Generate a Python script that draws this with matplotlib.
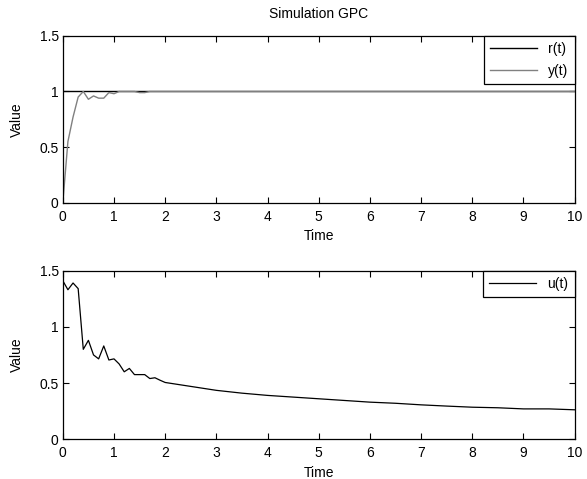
import matplotlib.pyplot as plt

plt.rcParams['font.family'] = ['Liberation Sans', 'DejaVu Sans']
plt.rcParams['font.size'] = 10

# step response
t_y = [0, 0.1, 0.2, 0.3, 0.4, 0.5, 0.6, 0.7, 0.8, 0.9, 1.0, 1.1, 1.2, 1.4,
       1.5, 1.6, 1.7, 1.8, 2.0, 3.0, 4.0, 5.0, 6.0, 7.0, 8.0, 9.0, 10.0]
y_vals = [0, 0.55, 0.77, 0.95, 1.0, 0.93, 0.96, 0.94, 0.94, 0.99, 0.98, 1.0,
          1.0, 1.0, 0.99, 0.99, 1.0, 1.0, 1.0, 1.0, 1.0, 1.0, 1.0, 1.0, 1.0,
          1.0, 1.0]
t_r = [0, 10]
r_vals = [1, 1]

# control signal
t_u = [0, 0.1, 0.2, 0.3, 0.4, 0.5, 0.6, 0.7, 0.8, 0.9, 1.0, 1.1, 1.2, 1.3,
       1.4, 1.5, 1.6, 1.7, 1.8, 1.9, 2.0, 2.5, 3.0, 3.5, 4.0, 4.5, 5.0, 5.5,
       6.0, 6.5, 7.0, 7.5, 8.0, 8.5, 9.0, 9.5, 10.0]
u_vals = [1.41, 1.33, 1.39, 1.34, 0.80, 0.88, 0.75, 0.715, 0.83, 0.705, 0.715,
          0.67, 0.60, 0.63, 0.575, 0.575, 0.575, 0.54, 0.547, 0.525, 0.505,
          0.47, 0.435, 0.41, 0.39, 0.375, 0.36, 0.345, 0.33, 0.32, 0.306,
          0.295, 0.285, 0.28, 0.27, 0.27, 0.262]

fig = plt.figure(figsize=(5.87, 4.79), dpi=100, facecolor='white')
ax1 = fig.add_axes([0.107, 0.577, 0.872, 0.348])
ax2 = fig.add_axes([0.107, 0.083, 0.872, 0.352])

ax1.plot(t_r, r_vals, color='black', linewidth=1, label='r(t)')
ax1.plot(t_y, y_vals, color='#808080', linewidth=1, label='y(t)')
ax2.plot(t_u, u_vals, color='black', linewidth=0.9, label='u(t)')

for ax in (ax1, ax2):
    ax.set_xlim(0, 10)
    ax.set_ylim(0, 1.5)
    ax.set_xticks(range(0, 11))
    ax.set_yticks([0, 0.5, 1, 1.5])
    ax.set_yticklabels(['0', '0.5', '1', '1.5'])
    ax.tick_params(direction='in', top=True, right=True, length=4,
                   width=0.8, labelsize=10, pad=3)
    ax.tick_params(axis='x', pad=5)
    for s in ax.spines.values():
        s.set_linewidth(0.9)
    ax.set_xlabel('Time', labelpad=4)
    ax.set_ylabel('Value', labelpad=11)
    leg = ax.legend(loc='upper right', fancybox=False, framealpha=1,
                    edgecolor='black', borderaxespad=0, handlelength=3.4,
                    borderpad=0.45, labelspacing=0.55)
    leg.get_frame().set_linewidth(0.9)

ax1.set_title('Simulation GPC', fontsize=10, pad=13)

fig.savefig('out.png', dpi=100)
